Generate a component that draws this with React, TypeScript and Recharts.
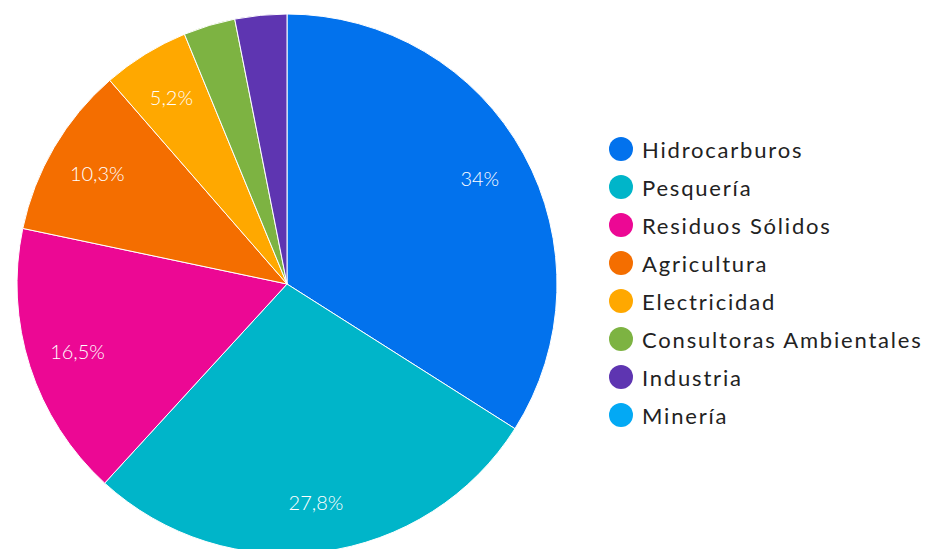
import React from 'react';
import { PieChart, Pie, Cell, Legend } from 'recharts';

const sectors = ['Hidrocarburos', 'Pesquería', 'Residuos Sólidos', 'Agricultura', 'Electricidad', 'Consultoras Ambientales', 'Industria', 'Minería'];
const shares = [34, 27.8, 16.5, 10.3, 5.2, 3.1, 3.1, 0];
const colors = ['#0272ED', '#00B5C9', '#EC0894', '#F46E00', '#FFA800', '#7DB342', '#5E35B1', '#03A9F4'];

const data = sectors.map((name, i) => ({ name, value: shares[i] }));

const RAD = Math.PI / 180;
const FONT = 'Lato, "Noto Sans", sans-serif';

const renderLabel = (props: any) => {
  const { cx, cy, midAngle, value } = props;
  if (value < 5) return null;
  const r = 220;
  const x = cx + r * Math.cos(-midAngle * RAD);
  const y = cy + r * Math.sin(-midAngle * RAD);
  return (
    <text x={x} y={y} fill="#fff" fontSize={20} fontWeight={300} fontFamily={FONT} textAnchor="middle" dominantBaseline="central">
      {String(value).replace('.', ',')}%
    </text>
  );
};

const renderLegend = () => (
  <div style={{ fontFamily: FONT }}>
    {sectors.map((s, i) => (
      <div key={s} style={{ display: 'flex', alignItems: 'center', height: 38 }}>
        <span style={{ width: 24, height: 24, borderRadius: 12, background: colors[i], display: 'inline-block', marginRight: 9 }} />
        <span style={{ fontSize: 22, color: '#222', letterSpacing: 1.8 }}>{s}</span>
      </div>
    ))}
  </div>
);

export default function App() {
  return (
    <div style={{ width: 946, height: 549, background: '#fff' }}>
      <style>{'body{margin:0}'}</style>
      <PieChart width={946} height={549} margin={{ top: 0, right: 0, bottom: 0, left: 0 }}>
        <Pie
          data={data}
          dataKey="value"
          nameKey="name"
          cx={287}
          cy={284}
          outerRadius={270}
          startAngle={90}
          endAngle={-270}
          stroke="#fff"
          strokeWidth={1}
          labelLine={false}
          label={renderLabel}
          isAnimationActive={false}
        >
          {data.map((d, i) => (
            <Cell key={d.name} fill={colors[i]} />
          ))}
        </Pie>
        <Legend content={renderLegend} layout="vertical" wrapperStyle={{ left: 609, top: 130, width: 337 }} />
      </PieChart>
    </div>
  );
}
